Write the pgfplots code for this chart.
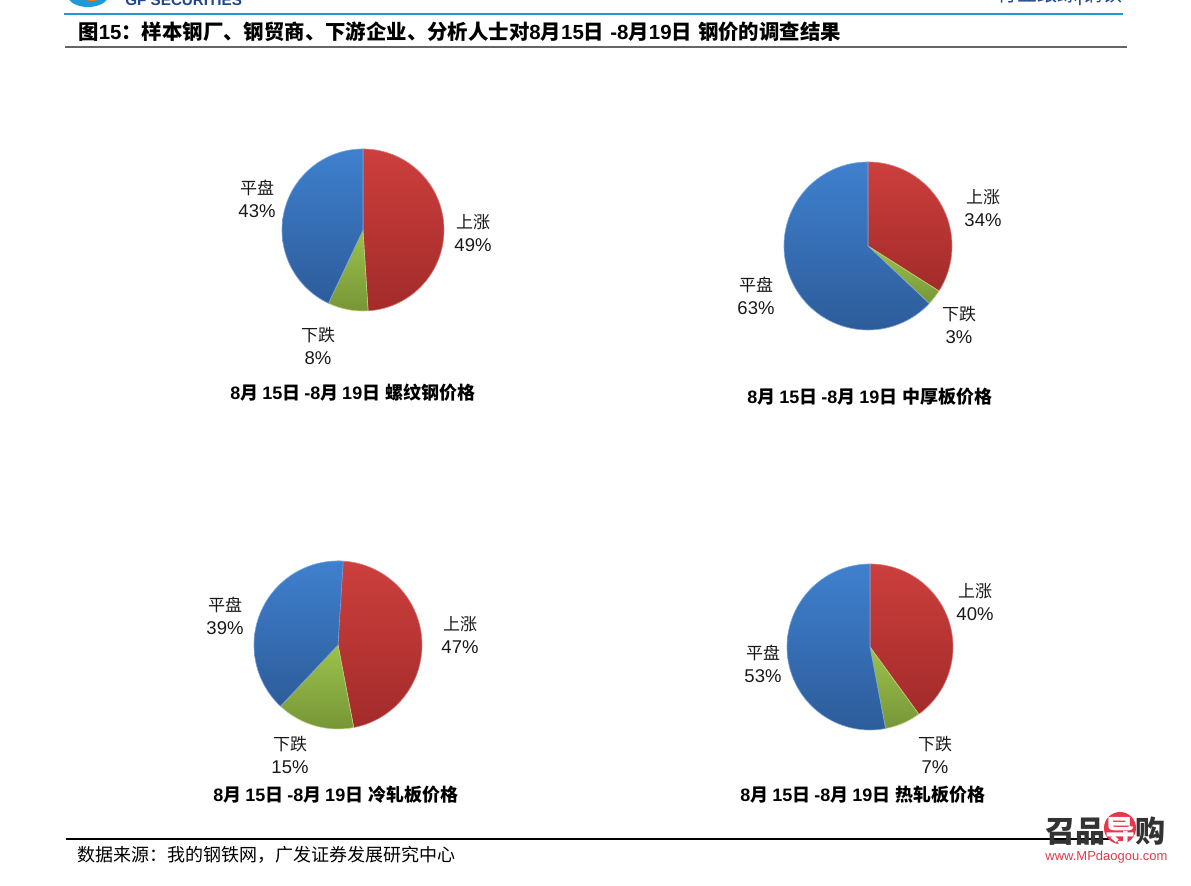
\documentclass[border=0pt]{standalone}
\usepackage{pgfplots}
\pgfplotsset{compat=1.18}
\usepackage{fontspec}
\setmainfont{Liberation Sans}
\newfontfamily\cjk{Noto Sans CJK SC}
\newcommand\C[1]{{\cjk #1}}
\definecolor{redT}{HTML}{CC3F3D}
\definecolor{redB}{HTML}{A22B2A}
\definecolor{bluT}{HTML}{3F80CE}
\definecolor{bluB}{HTML}{2D5C9A}
\definecolor{grnT}{HTML}{9CC24B}
\definecolor{grnB}{HTML}{779637}
\definecolor{hdrblue}{HTML}{1E9AD6}
\definecolor{navy}{HTML}{23478A}
\definecolor{wmred}{HTML}{E5384B}
\pgfplotsset{pieaxis/.style={hide axis, scale only axis, clip=false,
  xmin=-1,xmax=1,ymin=-1,ymax=1, anchor=center}}
% #1,#2 centre (pt), #3 diameter (pt), #4 up, #5 down, #6 flat (percent)
\newcommand\pie[6]{%
  \pgfmathsetmacro\aA{90}%
  \pgfmathsetmacro\aB{90-3.6*#4}%
  \pgfmathsetmacro\aC{\aB-3.6*#5}%
  \pgfmathsetmacro\aD{\aC-3.6*#6}%
  \begin{axis}[pieaxis, at={(#1,#2)}, width=#3, height=#3]
    \addplot[top color=redT, bottom color=redB, draw=redT!70!white, line width=0.3pt,
      domain=\aB:\aA, samples=90] ({cos(x)},{sin(x)}) -- (axis cs:0,0) -- cycle;
    \addplot[top color=grnT, bottom color=grnB, draw=grnT!70!white, line width=0.3pt,
      domain=\aC:\aB, samples=40] ({cos(x)},{sin(x)}) -- (axis cs:0,0) -- cycle;
    \addplot[top color=bluT, bottom color=bluB, draw=bluT!70!white, line width=0.3pt,
      domain=\aD:\aC, samples=120] ({cos(x)},{sin(x)}) -- (axis cs:0,0) -- cycle;
  \end{axis}}
\newcommand\lab[2]{{\cjk\fontsize{8.5}{11.5}\selectfont #1}\\#2\%}
\newcommand\sub[1]{\bfseries 8\C{月}\hspace{0.22em}15\C{日}\hspace{0.22em}-8\C{月}\hspace{0.22em}19\C{日}\hspace{0.3em}\C{#1}}
\begin{document}
\begin{tikzpicture}[x=0.5pt,y=-0.5pt]
\useasboundingbox (0,0) rectangle (1191,886);
% header
\begin{scope}
\clip (0,0) rectangle (1191,886);
\fill[hdrblue] (88,-4) ellipse (20 and 11);
\fill[orange!90!red] (92,-6) ellipse (12 and 7);
\fill[white] (94,-9) ellipse (9 and 5);
\node[anchor=base west, inner sep=0pt, text=navy, font=\fontsize{7.6}{8}\selectfont\bfseries] at (125,6) {GF SECURITIES};
\node[anchor=base east, inner sep=0pt, text=navy, font=\fontsize{10}{11}\selectfont] at (1123,2) {\C{行业跟踪}|\C{钢铁}};
\end{scope}
\draw[hdrblue, line width=1.25pt] (64,14) -- (1123,14);
\node[anchor=west, inner sep=0pt, font=\fontsize{10.2}{12}\selectfont\bfseries] at (78,32)
  {\C{图}15\C{：样本钢厂、钢贸商、下游企业、分析人士对}8\C{月}15\C{日}\hspace{0.3em}-8\C{月}19\C{日}\hspace{0.3em}\C{钢价的调查结果}};
\draw[black!60, line width=1.25pt] (65,47) -- (1127,47);
% pies
\pie{181.5pt}{-115pt}{81pt}{49}{8}{43}
\pie{434pt}{-123pt}{84pt}{34}{3}{63}
\pie{169pt}{-322.5pt}{84pt}{47}{15}{39}
\pie{435pt}{-323.5pt}{83pt}{40}{7}{53}
% labels
\begin{scope}[every node/.style={align=center, inner sep=0pt, text=black!90, font=\fontsize{9.25}{11.5}\selectfont}]
\node at (257,198.5) {\lab{平盘}{43}};
\node at (473,233.5) {\lab{上涨}{49}};
\node at (318,346.5) {\lab{下跌}{8}};
\node at (983,208.5) {\lab{上涨}{34}};
\node at (959,325.5) {\lab{下跌}{3}};
\node at (756,296) {\lab{平盘}{63}};
\node at (225,615.5) {\lab{平盘}{39}};
\node at (460,635.5) {\lab{上涨}{47}};
\node at (290,754.5) {\lab{下跌}{15}};
\node at (975,602.5) {\lab{上涨}{40}};
\node at (763,663.5) {\lab{平盘}{53}};
\node at (935,754.5) {\lab{下跌}{7}};
\end{scope}
\begin{scope}[every node/.style={inner sep=0pt, font=\fontsize{9}{11}\selectfont}]
\node at (353,393) {\sub{螺纹钢价格}};
\node at (870,397) {\sub{中厚板价格}};
\node at (336,795) {\sub{冷轧板价格}};
\node at (863,795) {\sub{热轧板价格}};
\end{scope}
% footer
\draw[black, line width=0.75pt] (66,839) -- (1127,839);
\node[anchor=west, inner sep=0pt, font=\fontsize{9}{11}\selectfont] at (77,855) {\C{数据来源：我的钢铁网，广发证券发展研究中心}};
% watermark
\fill[wmred] (1120,828) circle (16);
\node[anchor=west, inner sep=0pt, text=black!80, font=\fontsize{15}{16}\selectfont\bfseries] at (1045,831) {\C{召品}\textcolor{white}{\C{导}}\C{购}};
\node[anchor=west, inner sep=0pt, text=wmred, font=\fontsize{6.5}{7}\selectfont] at (1045,857) {www.MPdaogou.com};
\end{tikzpicture}
\end{document}
